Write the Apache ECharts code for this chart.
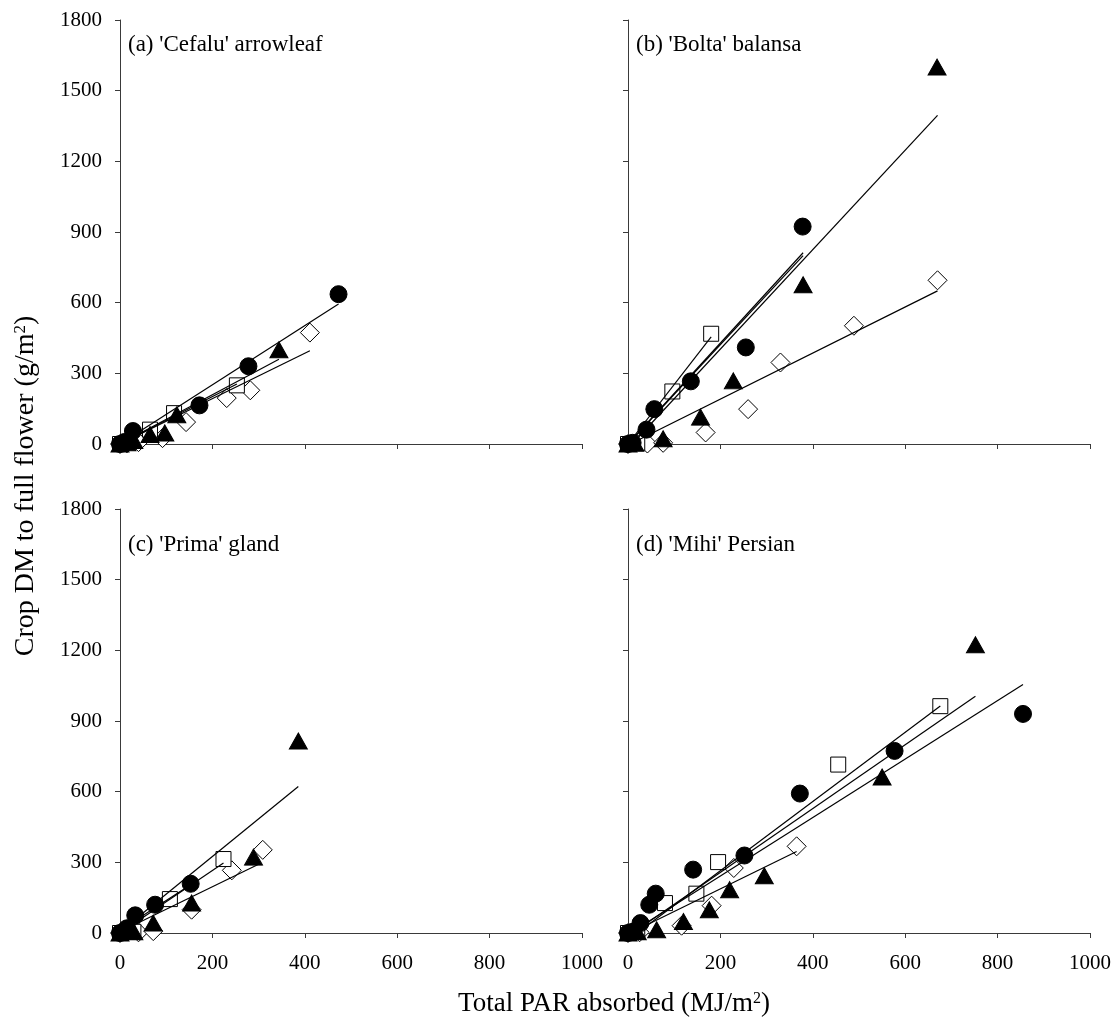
<!DOCTYPE html>
<html>
<head>
<meta charset="utf-8">
<script src="https://cdn.jsdelivr.net/npm/echarts@6/dist/echarts.min.js"></script>
<style>
html,body{margin:0;padding:0;background:#fff;}
#chart{width:1116px;height:1026px;}
</style>
</head>
<body>
<div id="chart"></div>
<script>
// ---- Data (x = total PAR absorbed MJ/m2, y = crop DM g/m2) ----
var panelTitles = ["(a) 'Cefalu' arrowleaf", "(b) 'Bolta' balansa", "(c) 'Prima' gland", "(d) 'Mihi' Persian"];
var xTicks = [0, 200, 400, 600, 800, 1000];
var yTicks = [0, 300, 600, 900, 1200, 1500, 1800];

// (a) 'Cefalu' arrowleaf
var a_circle   = [[0,0],[10,8],[28,55],[172,164],[278,330],[473,636]];
var a_triangle = [[0,0],[15,5],[30,15],[65,40],[97,47],[123,124],[344,400]];
var a_square   = [[0,0],[20,10],[65,61],[117,131],[253,249]];
var a_diamond  = [[0,0],[15,3],[40,8],[92,25],[143,93],[231,195],[282,228],[411,473]];
var a_fit_circle   = [[0,0],[473,594]];
var a_fit_triangle = [[0,0],[344,360]];
var a_fit_square   = [[0,0],[253,255]];
var a_fit_diamond  = [[0,0],[411,396]];

// (b) 'Bolta' balansa
var b_circle   = [[0,0],[10,5],[40,61],[57,148],[136,266],[255,410],[378,923]];
var b_triangle = [[0,0],[15,3],[76,22],[157,114],[228,268],[379,676],[669,1600]];
var b_square   = [[0,0],[20,5],[96,223],[180,468]];
var b_diamond  = [[0,0],[42,2],[76,5],[168,49],[260,148],[330,346],[489,502],[670,695]];
var b_fit_circle   = [[0,0],[379,812]];
var b_fit_pooled   = [[0,0],[379,800]];
var b_fit_triangle = [[9,0],[670,1395]];
var b_fit_square   = [[0,0],[180,455]];
var b_fit_diamond  = [[5,0],[670,650]];

// (c) 'Prima' gland
var c_circle   = [[0,0],[15,20],[33,75],[76,120],[153,209]];
var c_triangle = [[0,0],[30,5],[72,42],[155,127],[289,322],[386,815]];
var c_square   = [[0,0],[29,5],[108,144],[224,314]];
var c_diamond  = [[0,0],[40,3],[72,8],[155,99],[242,266],[309,353]];
var c_fit_circle   = [[0,12],[153,205]];
var c_fit_triangle = [[0,5],[386,622]];
var c_fit_square   = [[0,0],[224,297]];
var c_fit_diamond  = [[0,5],[300,292]];

// (d) 'Mihi' Persian
var d_circle   = [[0,0],[10,5],[27,42],[46,120],[60,167],[141,269],[252,329],[372,592],[577,773],[855,930]];
var d_triangle = [[0,0],[20,5],[62,14],[120,49],[176,99],[220,184],[295,243],[550,662],[752,1224]];
var d_square   = [[0,0],[20,5],[80,127],[148,167],[195,301],[455,715],[676,963]];
var d_diamond  = [[0,0],[25,3],[116,31],[181,116],[229,276],[365,368]];
var d_fit_circle   = [[5,0],[855,1055]];
var d_fit_triangle = [[10,0],[752,1005]];
var d_fit_square   = [[20,0],[676,964]];
var d_fit_diamond  = [[5,0],[365,346]];

// ---- Build chart ----
var FONT = 'Liberation Serif, Times New Roman, serif';
var grids = [
  {left:120, top:20,  width:462, height:424},
  {left:628, top:20,  width:462, height:424},
  {left:120, top:509, width:462, height:424},
  {left:628, top:509, width:462, height:424}
];
var axisColor = '#3a3a3a';
function plain(v){ return String(v); }

var xAxes = grids.map(function(g, i){
  return {
    type:'value', gridIndex:i, min:xTicks[0], max:xTicks[xTicks.length-1], interval:200,
    axisLine:{show:true, onZero:false, lineStyle:{color:axisColor, width:1}},
    axisTick:{show:true, inside:false, length:5, lineStyle:{color:axisColor}},
    axisLabel:{show: i>=2, margin:20, color:'#000', fontFamily:FONT, fontSize:21, formatter:plain},
    splitLine:{show:false}
  };
});
var yAxes = grids.map(function(g, i){
  return {
    type:'value', gridIndex:i, min:yTicks[0], max:yTicks[yTicks.length-1], interval:300,
    axisLine:{show:true, onZero:false, lineStyle:{color:axisColor, width:1}},
    axisTick:{show:true, inside:false, length:5, lineStyle:{color:axisColor}},
    axisLabel:{show: i%2===0, margin:18, color:'#000', fontFamily:FONT, fontSize:21, formatter:plain},
    splitLine:{show:false}
  };
});

function pts(idx, data, kind){
  var s = {type:'scatter', xAxisIndex:idx, yAxisIndex:idx, data:data, z:2, silent:true,
    itemStyle:{color:'#000', borderColor:'#000', borderWidth:1, opacity:1}};
  if(kind==='circle'){ s.symbol='circle'; s.symbolSize=17; }
  if(kind==='triangle'){ s.symbol='triangle'; s.symbolSize=[18,16]; }
  if(kind==='square'){ s.symbol='rect'; s.symbolSize=15; s.itemStyle.color='#fff'; }
  if(kind==='diamond'){ s.symbol='diamond'; s.symbolSize=[19,19]; s.itemStyle.color='#fff'; }
  return s;
}
function fit(idx, data){
  return {type:'line', xAxisIndex:idx, yAxisIndex:idx, data:data, symbol:'none', z:3, silent:true,
    clip:true, lineStyle:{color:'#000', width:1.2}};
}

var panels = [
  {pts:[a_diamond,a_square,a_circle,a_triangle], fits:[a_fit_circle,a_fit_triangle,a_fit_square,a_fit_diamond]},
  {pts:[b_diamond,b_square,b_circle,b_triangle], fits:[b_fit_circle,b_fit_pooled,b_fit_triangle,b_fit_square,b_fit_diamond]},
  {pts:[c_diamond,c_square,c_circle,c_triangle], fits:[c_fit_circle,c_fit_triangle,c_fit_square,c_fit_diamond]},
  {pts:[d_diamond,d_square,d_circle,d_triangle], fits:[d_fit_circle,d_fit_triangle,d_fit_square,d_fit_diamond]}
];
var kinds = ['diamond','square','circle','triangle'];
var series = [];
panels.forEach(function(p, i){
  p.pts.forEach(function(d, k){ series.push(pts(i, d, kinds[k])); });
  p.fits.forEach(function(d){ series.push(fit(i, d)); });
});

var graphics = [];
var labelPos = [[128,45],[636,45],[128,545],[636,545]];
panelTitles.forEach(function(t, i){
  graphics.push({type:'text', x:labelPos[i][0], y:labelPos[i][1],
    style:{text:t, fontFamily:FONT, fontSize:23, fill:'#000', verticalAlign:'middle'}});
});
graphics.push({type:'text', x:614, y:1004, style:{
  text:'{n|Total PAR absorbed (MJ/m}{s|2}{n|)}', align:'center', verticalAlign:'middle',
  rich:{n:{fontFamily:FONT, fontSize:27, fill:'#000', verticalAlign:'bottom'}, s:{fontFamily:FONT, fontSize:16, fill:'#000', verticalAlign:'top', padding:[0,0,10,0]}}
}});
graphics.push({type:'text', x:26, y:486, rotation:Math.PI/2, style:{
  text:'{n|Crop DM to full flower (g/m}{s|2}{n|)}', align:'center', verticalAlign:'middle',
  rich:{n:{fontFamily:FONT, fontSize:28, fill:'#000', verticalAlign:'bottom'}, s:{fontFamily:FONT, fontSize:17, fill:'#000', verticalAlign:'top', padding:[0,0,11,0]}}
}});

var chart = echarts.init(document.getElementById('chart'), null, {renderer:'canvas'});
chart.setOption({
  animation:false,
  backgroundColor:'#fff',
  grid:grids,
  xAxis:xAxes,
  yAxis:yAxes,
  series:series,
  graphic:graphics
});
</script>
</body>
</html>
